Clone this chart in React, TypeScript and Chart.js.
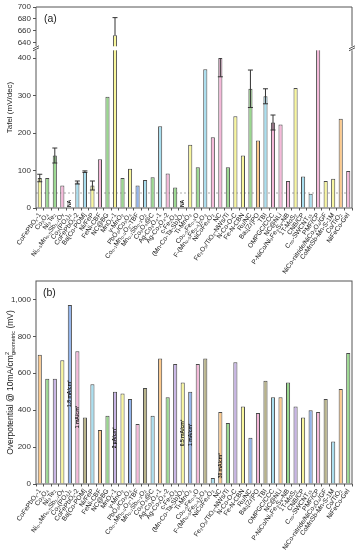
import React, { useEffect, useRef } from "react";
import { Chart, registerables } from "chart.js";
Chart.register(...registerables);

const categories = [
  "CoFePbOₓ-1", "Co₃O₄", "Ni₃Te₂", "Ni₀.₅Mn₀.₅Sb₁.₇Oᵧ", "Co₃(PO₄)₂", "CoFePbOₓ-2", "Ba[Co-POM]", "Ni/FeP", "FeNi-CBF", "NC@BG",
  "MnOₓ-1", "γ-MnO₂", "PbO₂/Co₃O₄", "Co₀.₁Mn₀.₉O₂-TBF", "Mn₀.₇Sb₀.₃O₂", "Co₃O₄@C", "Ag-Co₃O₄-1", "Ag-Co₃O₄-2", "c-Fe₂O₃", "(Mn-Co-Ta-Sb)Oₓ",
  "Ti-MnO₂", "Co₀.₅Fe₀.₅O", "F-(Mn₀.₅Fe₀.₅)₂O₃", "NiCoFe₂O₃", "NC", "Fe₂O₃/TiO₂-NWs/Ti", "N-Co-O-C", "Fe-N-CBN", "Ru/NC", "Ba₂[Zr]PO",
  "TBI", "OMPGC/CCC", "NC@NLi", "P-NiCo/Ni₃Fe₃S₈-NB", "1T-MoS₂", "CNB/CP", "C₆₀-SWCNT₁₅", "PMF/CP", "NiCo-nitride/NiCo₂O₄/GF", "CoMnSb-Mn-S-1M",
  "Co/TiO₂", "NiFeCo-Gel"
];

const tafelValues: (number | null)[] = [
  80, 80, 140, 60, null, 68, 97, 60, 130, 297,
  652, 80, 105, 60, 75, 82, 218, 92, 55, null,
  169, 109, 370, 189, 400, 109, 245, 140, 318, 180,
  298, 228, 223, 72, 320, 84, 38, 460, 72, 78,
  238, 99
];
const tafelErrLow = [
  10, 0, 20, 0, 0, 4, 2, 12, 0, 0,
  0, 0, 0, 0, 0, 0, 0, 0, 0, 0,
  0, 0, 0, 0, 50, 0, 0, 0, 50, 0,
  20, 20, 0, 0, 0, 0, 0, 0, 0, 0,
  0, 0
];
const tafelErrHigh = [
  10, 0, 20, 0, 0, 4, 2, 12, 0, 0,
  30, 0, 0, 0, 0, 0, 0, 0, 0, 0,
  0, 0, 0, 0, 0, 0, 0, 0, 50, 0,
  20, 20, 0, 0, 0, 0, 0, 0, 0, 0,
  0, 0
];
const tafelColorKeys = [
  "Y", "G", "G", "P", "C", "C", "C", "Y", "P", "G",
  "Y", "G", "Y", "B", "C", "G", "C", "P", "G", "G",
  "Y", "G", "C", "P", "P", "G", "Y", "Y", "G", "O",
  "C", "P", "P", "P", "Y", "C", "C", "P", "Y", "Y",
  "O", "P"
];
const tafelRefLine = 40;
const tafelLowTicks = [0, 100, 200, 300, 400];
const tafelHighTicks = [640, 660, 680, 700];

const overpotentialValues = [
  700, 570, 570, 670, 970, 720, 360, 540, 293, 370,
  500, 490, 460, 325, 520, 370, 680, 470, 650, 550,
  500, 650, 680, 32, 390, 330, 660, 420, 250, 385,
  560, 470, 470, 550, 420, 360, 400, 390, 460, 230,
  515, 710
];
const overpotentialNoteIdx = [4, 5, 10, 19, 20, 24];
const overpotentialNoteText = ["1.8 mA/cm²", "1 mA/cm²", "2 µA/cm²", "0.5 mA/cm²", "1 mA/cm²", "30 mA/cm²"];
const overpotentialNoteAt = [490, 363, 250, 277, 267, 99];
const overTicks = [0, 200, 400, 600, 800, 1000];
const overCycle = ["O", "G", "V", "Y", "B", "P", "K", "C"];

const palette: Record<string, string> = {
  Y: "#f8f69c", G: "#9ad88f", P: "#f5b8d9", C: "#a9dff0",
  B: "#92b4ec", O: "#fcc98c", V: "#c8b5e5", K: "#b9b48b"
};

const FONT = "Liberation Sans, Arial, sans-serif";
const AXIS = "#555";
const LOW_CAP = 426;
const HIGH_MIN = 630;
const HIGH_MAX = 700;

function line(ctx: CanvasRenderingContext2D, x1: number, y1: number, x2: number, y2: number) {
  ctx.beginPath();
  ctx.moveTo(x1, y1);
  ctx.lineTo(x2, y2);
  ctx.stroke();
}

const panelAPlugin = {
  id: "panelA",
  beforeDatasetsDraw(chart: any) {
    const { ctx, chartArea: ca, scales } = chart;
    const y = scales.yLow.getPixelForValue(tafelRefLine);
    ctx.save();
    ctx.strokeStyle = "#999";
    ctx.lineWidth = 0.8;
    ctx.setLineDash([2, 2]);
    line(ctx, ca.left, y, ca.right, y);
    ctx.restore();
  },
  afterDatasetsDraw(chart: any) {
    const { ctx, scales } = chart;
    ctx.save();
    ctx.strokeStyle = "#333";
    ctx.lineWidth = 1;
    tafelValues.forEach((v, i) => {
      if (v == null) return;
      const lo = tafelErrLow[i], hi = tafelErrHigh[i];
      if (!lo && !hi) return;
      const sc = v > HIGH_MIN ? scales.yHigh : scales.yLow;
      const x = scales.x.getPixelForValue(i);
      let yTop = sc.getPixelForValue(v + hi);
      let yBot = sc.getPixelForValue(v - lo);
      const capTop = yTop >= sc.top;
      const capBot = yBot <= sc.bottom;
      yTop = Math.max(yTop, sc.top);
      yBot = Math.min(yBot, sc.bottom);
      line(ctx, x, yTop, x, yBot);
      if (hi && capTop) line(ctx, x - 2.5, yTop, x + 2.5, yTop);
      if (lo && capBot) line(ctx, x - 2.5, yBot, x + 2.5, yBot);
    });
    ctx.fillStyle = "#111";
    ctx.font = `bold 5px ${FONT}`;
    ctx.textAlign = "left";
    ctx.textBaseline = "middle";
    tafelValues.forEach((v, i) => {
      if (v != null) return;
      const x = scales.x.getPixelForValue(i);
      const y0 = scales.yLow.getPixelForValue(0);
      ctx.save();
      ctx.translate(x, y0 - 1);
      ctx.rotate(-Math.PI / 2);
      ctx.fillText("NA", 0, 0);
      ctx.restore();
    });
    ctx.restore();
  },
  afterDraw(chart: any) {
    const { ctx, chartArea: ca, scales } = chart;
    const yb = scales.yLow.top;
    ctx.save();
    ctx.fillStyle = "#fff";
    ctx.fillRect(ca.left + 1, yb - 2, ca.right - ca.left - 2, 4);
    ctx.strokeStyle = AXIS;
    ctx.lineWidth = 1;
    line(ctx, ca.left, ca.top, ca.right, ca.top);
    line(ctx, ca.left, ca.bottom, ca.right, ca.bottom);
    [ca.left, ca.right].forEach((x) => {
      line(ctx, x, ca.top, x, yb - 2);
      line(ctx, x, yb + 2, x, ca.bottom);
      line(ctx, x - 3, yb + 0.5, x + 3, yb - 2.5);
      line(ctx, x - 3, yb + 2.5, x + 3, yb - 0.5);
    });
    ctx.fillStyle = "#222";
    ctx.font = `10.5px ${FONT}`;
    ctx.textAlign = "left";
    ctx.textBaseline = "middle";
    ctx.fillText("(a)", 44, 19);
    ctx.font = `8px ${FONT}`;
    ctx.textAlign = "center";
    ctx.translate(10, (ca.top + ca.bottom) / 2);
    ctx.rotate(-Math.PI / 2);
    ctx.fillText("Tafel (mV/dec)", 0, 0);
    ctx.restore();
  }
};

const panelBPlugin = {
  id: "panelB",
  afterDatasetsDraw(chart: any) {
    const { ctx, scales } = chart;
    ctx.save();
    ctx.fillStyle = "#1a1a1a";
    ctx.font = `bold 5px ${FONT}`;
    ctx.textAlign = "center";
    ctx.textBaseline = "middle";
    overpotentialNoteIdx.forEach((idx, k) => {
      const x = scales.x.getPixelForValue(idx);
      const y = scales.y.getPixelForValue(overpotentialNoteAt[k]);
      ctx.save();
      ctx.translate(x, y);
      ctx.rotate(-Math.PI / 2);
      ctx.fillText(overpotentialNoteText[k], 0, 0);
      ctx.restore();
    });
    ctx.restore();
  },
  afterDraw(chart: any) {
    const { ctx, chartArea: ca } = chart;
    ctx.save();
    ctx.strokeStyle = AXIS;
    ctx.lineWidth = 1;
    ctx.strokeRect(ca.left, ca.top, ca.right - ca.left, ca.bottom - ca.top);
    ctx.fillStyle = "#222";
    ctx.font = `10.5px ${FONT}`;
    ctx.textAlign = "left";
    ctx.textBaseline = "middle";
    ctx.fillText("(b)", 43, 15);
    const big = `8.5px ${FONT}`;
    const small = `5.5px ${FONT}`;
    const p1 = "Overpotential @ 10mA/cm";
    const sup = "2";
    const sub = "geometric";
    const p2 = " (mV)";
    ctx.font = big;
    const w1 = ctx.measureText(p1).width;
    const w2 = ctx.measureText(p2).width;
    ctx.font = small;
    const ws = Math.max(ctx.measureText(sub).width, ctx.measureText(sup).width);
    const total = w1 + ws + w2;
    ctx.translate(10, (ca.top + ca.bottom) / 2);
    ctx.rotate(-Math.PI / 2);
    let x = -total / 2;
    ctx.textBaseline = "alphabetic";
    ctx.font = big;
    ctx.fillText(p1, x, 3);
    x += w1;
    ctx.font = small;
    ctx.fillText(sup, x, -0.8);
    ctx.fillText(sub, x, 5);
    x += ws;
    ctx.font = big;
    ctx.fillText(p2, x, 3);
    ctx.restore();
  }
};

function xScale(height: number) {
  return {
    type: "category",
    offset: true,
    grid: { display: true, drawOnChartArea: false, drawTicks: true, tickLength: 2.5, color: AXIS },
    border: { display: false },
    ticks: {
      autoSkip: false, maxRotation: 55, minRotation: 55, padding: 1,
      color: "#1a1a1a", font: { size: 6.6, family: FONT }
    },
    afterFit: (s: any) => { s.height = height; s.paddingLeft = 0; s.paddingRight = 0; }
  };
}

function yScale(extra: any, ticks: number[]) {
  return {
    type: "linear",
    position: "left",
    ...extra,
    afterBuildTicks: (s: any) => { s.ticks = ticks.map((v) => ({ value: v })); },
    grid: { drawOnChartArea: false, drawTicks: true, tickLength: 3, color: AXIS },
    border: { display: false },
    ticks: { autoSkip: false, color: "#333", padding: 2, font: { size: 8, family: FONT } },
    afterFit: (s: any) => { s.width = 36; s.paddingTop = 0; s.paddingBottom = 0; }
  };
}

export default function App() {
  const refA = useRef<HTMLCanvasElement>(null);
  const refB = useRef<HTMLCanvasElement>(null);

  useEffect(() => {
    Chart.defaults.font.family = FONT;
    const colorsA = tafelColorKeys.map((k) => palette[k]);
    const lowData = tafelValues.map((v) => (v == null ? null : Math.min(v, LOW_CAP)));
    const highData = tafelValues.map((v) => (v != null && v > HIGH_MIN ? [HIGH_MIN, v] : null));
    const barCommon = {
      borderColor: "#4a4a4a", borderWidth: 1, grouped: false,
      barPercentage: 0.55, categoryPercentage: 1
    };
    const chartA = new Chart(refA.current as HTMLCanvasElement, {
      type: "bar",
      data: {
        labels: categories,
        datasets: [
          { ...barCommon, data: lowData as any, yAxisID: "yLow", backgroundColor: colorsA },
          { ...barCommon, data: highData as any, yAxisID: "yHigh", backgroundColor: colorsA }
        ]
      },
      options: {
        animation: false,
        responsive: false,
        maintainAspectRatio: false,
        layout: { padding: { top: 7, right: 7, left: 0, bottom: 0 } },
        plugins: { legend: { display: false }, tooltip: { enabled: false } },
        scales: {
          x: xScale(70) as any,
          yLow: yScale({ stack: "tafel", stackWeight: 159.7, min: 0, max: LOW_CAP }, tafelLowTicks) as any,
          yHigh: yScale({ stack: "tafel", stackWeight: 41.3, min: HIGH_MIN, max: HIGH_MAX }, tafelHighTicks) as any
        }
      },
      plugins: [panelAPlugin]
    });

    const colorsB = overpotentialValues.map((_, i) => palette[overCycle[i % overCycle.length]]);
    const chartB = new Chart(refB.current as HTMLCanvasElement, {
      type: "bar",
      data: {
        labels: categories,
        datasets: [{ ...barCommon, data: overpotentialValues, backgroundColor: colorsB }]
      },
      options: {
        animation: false,
        responsive: false,
        maintainAspectRatio: false,
        layout: { padding: { top: 3, right: 7, left: 0, bottom: 0 } },
        plugins: { legend: { display: false }, tooltip: { enabled: false } },
        scales: {
          x: xScale(66) as any,
          y: yScale({ min: 0, max: 1100 }, overTicks) as any
        }
      },
      plugins: [panelBPlugin]
    });
    return () => { chartA.destroy(); chartB.destroy(); };
  }, []);

  return (
    <div style={{ position: "absolute", left: 0, top: 0, width: 359, height: 550, background: "#fff" }}>
      <canvas ref={refA} width={359} height={278} style={{ position: "absolute", left: 0, top: 0, display: "block" }} />
      <canvas ref={refB} width={359} height={272} style={{ position: "absolute", left: 0, top: 278, display: "block" }} />
    </div>
  );
}
